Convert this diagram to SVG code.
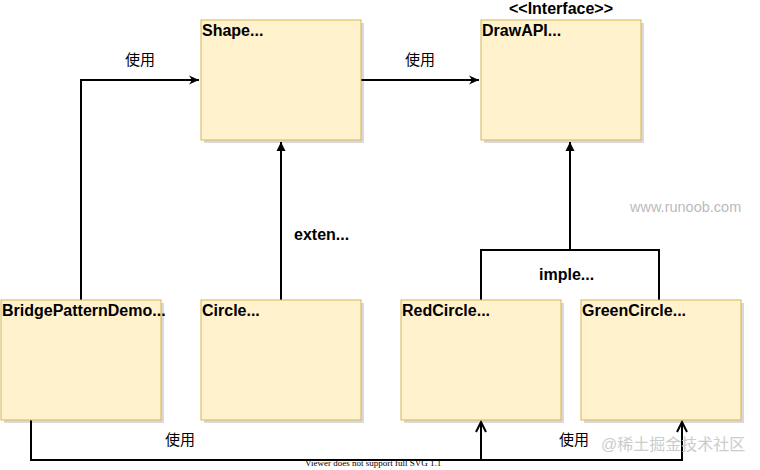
<svg xmlns="http://www.w3.org/2000/svg" width="760" height="470" viewBox="0 0 760 470">
<style>
.box{fill:#fff2cc;stroke:#d6b656;stroke-width:1}
.sh{fill:#000;opacity:0.15}
.t{font-family:"Liberation Sans",Arial,sans-serif;font-size:16px;font-weight:bold;fill:#000}
.cn{font-family:"Liberation Sans","Noto Sans CJK SC",sans-serif;font-size:15px;fill:#000}
.ln{fill:none;stroke:#000;stroke-width:2}
</style>
<defs>
<marker id="cls" viewBox="-10 -6 12 12" refX="0" refY="0" markerWidth="12" markerHeight="12" markerUnits="userSpaceOnUse" orient="auto">
<path d="M-10,-4.5 L0,0 L-10,4.5 L-7,0 Z" fill="#000"/>
</marker>
<marker id="blk" viewBox="-10 -6 12 12" refX="0" refY="0" markerWidth="12" markerHeight="12" markerUnits="userSpaceOnUse" orient="auto">
<path d="M-9,-4.5 L0,0 L-9,4.5 Z" fill="#000"/>
</marker>
<marker id="opn" viewBox="-12 -7 14 14" refX="0" refY="0" markerWidth="14" markerHeight="14" markerUnits="userSpaceOnUse" orient="auto">
<path d="M-10,-5 L0,0 L-10,5" fill="none" stroke="#000" stroke-width="2"/>
</marker>
</defs>
<rect width="760" height="470" fill="#fff"/>
<g id="connectors">
<path class="ln" d="M81,300 V80 H199" marker-end="url(#cls)"/>
<path class="ln" d="M361,80 H479" marker-end="url(#cls)"/>
<path class="ln" d="M281,300 V142" marker-end="url(#blk)"/>
<path class="ln" d="M481,300 V250 H659 V300"/>
<path class="ln" d="M570,250 V142" marker-end="url(#blk)"/>
<path class="ln" d="M31,420 V460 H682 V422" marker-end="url(#opn)"/>
<path class="ln" d="M481,460 V422" marker-end="url(#opn)"/>
<text class="cn" x="125" y="65">使用</text>
<text class="cn" x="405" y="65">使用</text>
<text class="t" x="294" y="240">exten...</text>
<text class="t" x="539" y="280">imple...</text>
<text class="cn" x="165" y="445">使用</text>
<text class="cn" x="559" y="445">使用</text>
</g>
<g id="Shape">
<rect class="sh" x="204" y="23" width="160" height="120"/>
<rect class="box" x="201" y="20" width="160" height="120"/>
<text class="t" x="202" y="36">Shape...</text>
</g>
<g id="DrawAPI">
<rect class="sh" x="484" y="23" width="160" height="120"/>
<rect class="box" x="481" y="20" width="160" height="120"/>
<text class="t" x="482" y="36">DrawAPI...</text>
<text class="t" x="561" y="14" text-anchor="middle">&lt;&lt;Interface&gt;&gt;</text>
</g>
<g id="BridgePatternDemo">
<rect class="sh" x="4" y="303" width="160" height="120"/>
<rect class="box" x="1" y="300" width="160" height="120"/>
<text class="t" x="2" y="316">BridgePatternDemo...</text>
</g>
<g id="Circle">
<rect class="sh" x="204" y="303" width="160" height="120"/>
<rect class="box" x="201" y="300" width="160" height="120"/>
<text class="t" x="202" y="316">Circle...</text>
</g>
<g id="RedCircle">
<rect class="sh" x="404" y="303" width="160" height="120"/>
<rect class="box" x="401" y="300" width="160" height="120"/>
<text class="t" x="402" y="316">RedCircle...</text>
</g>
<g id="GreenCircle">
<rect class="sh" x="584" y="303" width="160" height="120"/>
<rect class="box" x="581" y="300" width="160" height="120"/>
<text class="t" x="582" y="316">GreenCircle...</text>
</g>
<text x="630" y="212" font-family="Liberation Sans,Arial,sans-serif" font-size="14.5" fill="#bbb">www.runoob.com</text>
<text x="305" y="466" font-family="Liberation Serif,serif" font-size="9" fill="#000">Viewer does not support full SVG 1.1</text>
<text x="601" y="450" font-family="Liberation Sans,Noto Sans CJK SC,sans-serif" font-size="16" fill="#ccc">@稀土掘金技术社区</text>
</svg>
